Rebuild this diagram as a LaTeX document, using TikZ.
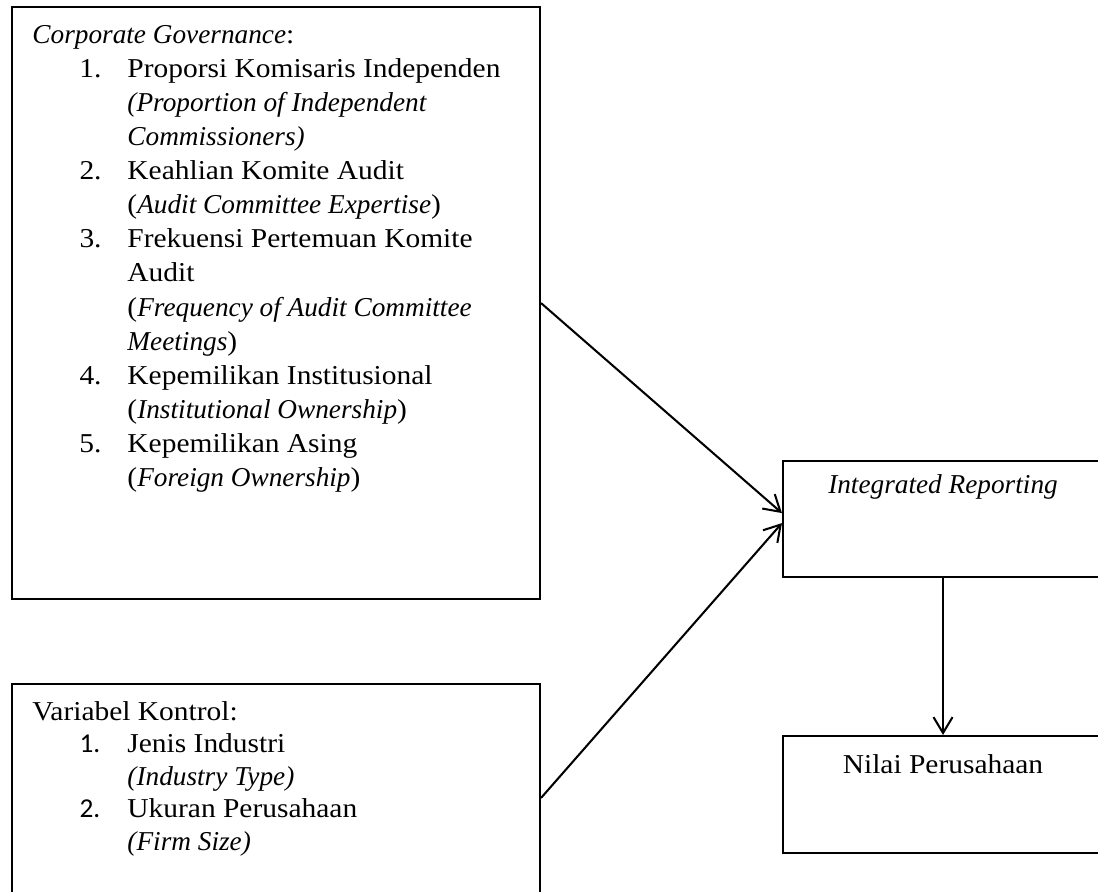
\documentclass[tikz,border=0pt]{standalone}
\usepackage{fontspec}
\setmainfont{Liberation Serif}[UprightFeatures={FakeStretch=1.08}]
\newfontfamily\numfont{Carlito}
\usepackage{tikz}
\usetikzlibrary{arrows.meta, positioning}

\tikzset{
  box/.style={draw, line width=0.9pt, inner sep=0pt},
  link/.style={-{Straight Barb[length=7pt, width=8.4pt, line width=0.9pt]}, line width=0.9pt},
  listtext/.style={anchor=north west, inner sep=0pt, align=left}
}

\begin{document}
\begin{tikzpicture}[x=0.44pt, y=-0.44pt]
  \clip (0,0) rectangle (1098,891);

  % Corporate governance (top left)
  \node[box, anchor=north west, minimum width=232.3pt, minimum height=260.5pt] (cgbox) at (11,6) {};
  \node[listtext, font=\fontsize{12}{15}\selectfont] (cgtext) at (32,19) {%
    \begin{tabular}{@{\hspace{20.7pt}}p{21.1pt}@{}l@{}}
      \multicolumn{2}{@{}l@{}}{\textit{Corporate Governance}:}\\
      1. & Proporsi Komisaris Independen\\
         & \textit{(Proportion of Independent}\\
         & \textit{Commissioners)}\\
      2. & Keahlian Komite Audit\\
         & (\textit{Audit Committee Expertise})\\
      3. & Frekuensi Pertemuan Komite\\
         & Audit\\
         & (\textit{Frequency of Audit Committee}\\
         & \textit{Meetings})\\
      4. & Kepemilikan Institusional\\
         & (\textit{Institutional Ownership})\\
      5. & Kepemilikan Asing\\
         & (\textit{Foreign Ownership})
    \end{tabular}};

  % Control variables (bottom left)
  \node[box, anchor=north west, minimum width=232.3pt, minimum height=100.3pt] (kontrolbox) at (11,683) {};
  \node[listtext, font=\fontsize{12}{14.3}\selectfont] (kontroltext) at (32,697) {%
    \begin{tabular}{@{\hspace{20.7pt}}p{21.1pt}@{}l@{}}
      \multicolumn{2}{@{}l@{}}{Variabel Kontrol:}\\
      {\numfont 1.} & Jenis Industri\\
         & \textit{(Industry Type)}\\
      {\numfont 2.} & Ukuran Perusahaan\\
         & \textit{(Firm Size)}
    \end{tabular}};

  % Mediating and dependent variables (right)
  \node[box, minimum width=140.8pt, text height=14.08pt, text depth=36.96pt, font=\fontsize{12}{15}\selectfont] (irbox) at (943,519) {\textit{Integrated Reporting}};
  \node[box, minimum width=140.8pt, text height=16.28pt, text depth=35.2pt, font=\fontsize{12}{15}\selectfont] (nilaibox) at (943,794.5) {Nilai Perusahaan};

  % Arrows
  \draw[link] (cgbox.east) -- ([yshift=2.6pt]irbox.west);
  \draw[link] (kontrolbox.east) -- ([yshift=-1.8pt]irbox.west);
  \draw[link] (irbox.south) -- (nilaibox.north);
\end{tikzpicture}
\end{document}
